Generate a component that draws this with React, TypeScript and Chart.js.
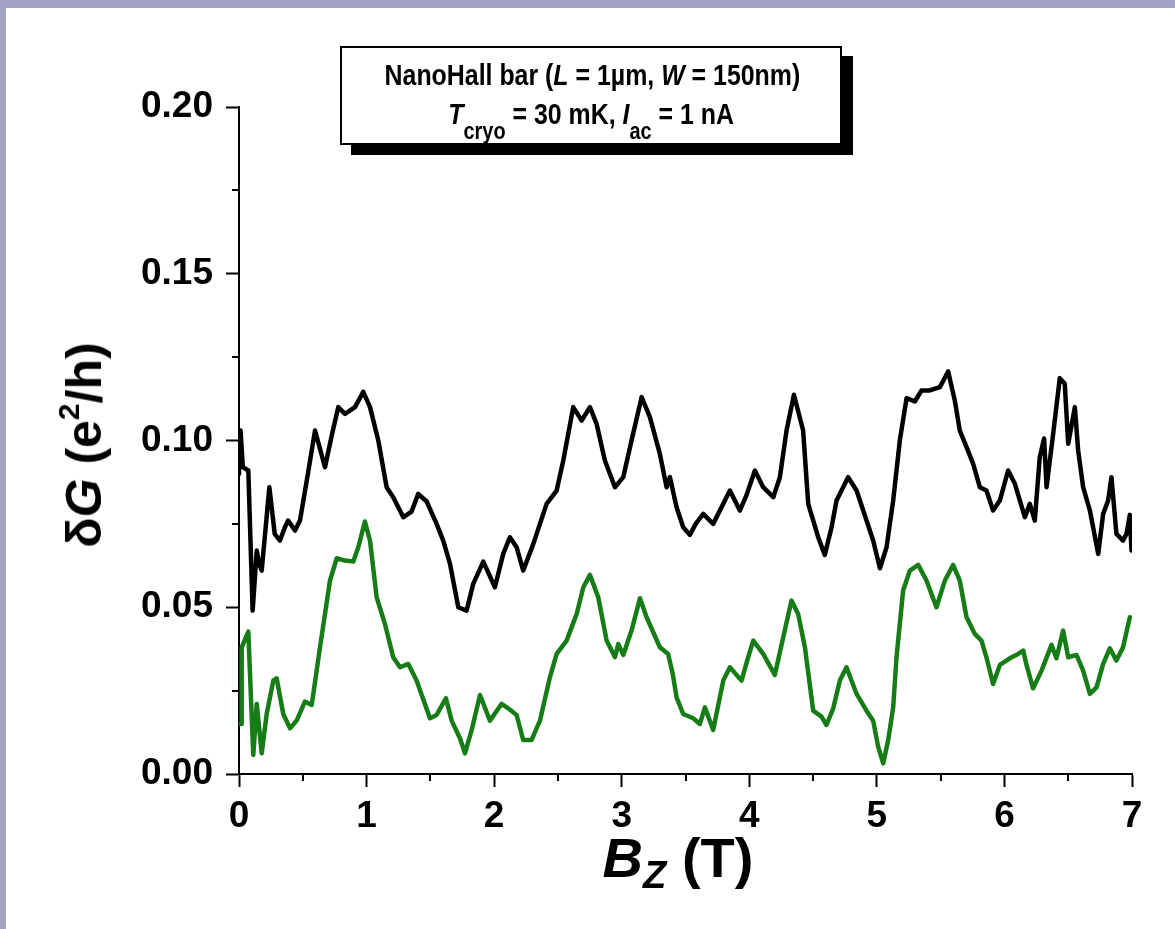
import React, { useEffect, useRef } from 'react';
import { Chart, registerables } from 'chart.js';

Chart.register(...registerables);

// Black trace: magnetic field B_Z (T) and conductance fluctuation δG (e²/h)
const blackB = [
  0.0, 0.012, 0.03, 0.073, 0.107, 0.139, 0.158, 0.178, 0.238, 0.28, 0.321, 0.36, 0.385, 0.439, 0.478,
  0.54, 0.596, 0.674, 0.73, 0.778, 0.831, 0.909, 0.974, 1.027, 1.092, 1.157, 1.209, 1.288, 1.353, 1.405,
  1.471, 1.549, 1.601, 1.654, 1.719, 1.784, 1.836, 1.915, 2.006, 2.071, 2.124, 2.176, 2.228, 2.307, 2.411,
  2.49, 2.542, 2.62, 2.686, 2.751, 2.803, 2.868, 2.947, 3.012, 3.077, 3.156, 3.221, 3.299, 3.352, 3.378,
  3.43, 3.482, 3.534, 3.58, 3.639, 3.717, 3.848, 3.926, 3.979, 4.044, 4.109, 4.188, 4.24, 4.292, 4.35,
  4.422, 4.462, 4.54, 4.592, 4.645, 4.684, 4.775, 4.841, 4.919, 4.971, 5.024, 5.076, 5.128, 5.18, 5.233,
  5.298, 5.35, 5.415, 5.494, 5.559, 5.611, 5.65, 5.703, 5.755, 5.807, 5.859, 5.911, 5.964, 6.029, 6.082,
  6.16, 6.199, 6.238, 6.277, 6.311, 6.33, 6.382, 6.434, 6.473, 6.5, 6.552, 6.578, 6.617, 6.67, 6.735,
  6.774, 6.813, 6.839, 6.878, 6.93, 6.957, 6.983, 6.996,
];
const blackG = [
  0.09, 0.103, 0.092, 0.091, 0.049, 0.067, 0.063, 0.061, 0.086, 0.072, 0.07, 0.074, 0.076, 0.073, 0.076,
  0.09, 0.103, 0.092, 0.102, 0.11, 0.108, 0.11, 0.1146, 0.11, 0.1, 0.086, 0.083, 0.077, 0.0787, 0.084,
  0.0817, 0.075, 0.07, 0.063, 0.05, 0.049, 0.057, 0.0637, 0.056, 0.066, 0.071, 0.068, 0.061, 0.069, 0.081,
  0.085, 0.094, 0.11, 0.106, 0.11, 0.105, 0.094, 0.086, 0.089, 0.1, 0.113, 0.107, 0.096, 0.086, 0.089,
  0.08, 0.074, 0.0717, 0.075, 0.078, 0.075, 0.085, 0.079, 0.0837, 0.091, 0.086, 0.083, 0.089, 0.103, 0.1137,
  0.103, 0.081, 0.071, 0.0657, 0.074, 0.082, 0.089, 0.085, 0.076, 0.07, 0.0617, 0.068, 0.082, 0.1, 0.1127,
  0.1117, 0.115, 0.115, 0.116, 0.1207, 0.112, 0.103, 0.098, 0.093, 0.086, 0.085, 0.079, 0.082, 0.091, 0.087,
  0.077, 0.081, 0.076, 0.095, 0.1006, 0.086, 0.102, 0.1187, 0.117, 0.099, 0.11, 0.097, 0.086, 0.079, 0.066,
  0.078, 0.082, 0.089, 0.072, 0.07, 0.072, 0.0777, 0.067,
];

// Green trace
const greenB = [
  0.005, 0.016, 0.021, 0.073, 0.099, 0.112, 0.139, 0.178, 0.217, 0.269, 0.295, 0.347, 0.4, 0.452, 0.517,
  0.57, 0.635, 0.713, 0.766, 0.831, 0.896, 0.935, 0.987, 1.027, 1.079, 1.144, 1.209, 1.262, 1.327, 1.392,
  1.497, 1.549, 1.622, 1.667, 1.732, 1.771, 1.824, 1.889, 1.967, 2.058, 2.11, 2.176, 2.228, 2.294, 2.359,
  2.437, 2.49, 2.568, 2.647, 2.699, 2.751, 2.816, 2.882, 2.947, 2.973, 3.012, 3.077, 3.143, 3.195, 3.299,
  3.364, 3.4, 3.43, 3.482, 3.56, 3.613, 3.652, 3.717, 3.796, 3.848, 3.939, 3.991, 4.031, 4.109, 4.2,
  4.266, 4.331, 4.383, 4.436, 4.501, 4.566, 4.605, 4.658, 4.71, 4.762, 4.841, 4.919, 4.971, 5.01, 5.05,
  5.089, 5.128, 5.154, 5.206, 5.259, 5.324, 5.389, 5.467, 5.533, 5.598, 5.65, 5.703, 5.768, 5.82, 5.859,
  5.911, 5.964, 6.042, 6.108, 6.147, 6.173, 6.225, 6.291, 6.369, 6.408, 6.46, 6.5, 6.565, 6.617, 6.67,
  6.722, 6.774, 6.826, 6.878, 6.93, 6.983,
];
const greenG = [
  0.015, 0.015, 0.038, 0.0427, 0.018, 0.0057, 0.021, 0.0062, 0.018, 0.028, 0.0287, 0.018, 0.0137, 0.016, 0.0217,
  0.0207, 0.038, 0.058, 0.0647, 0.064, 0.0637, 0.068, 0.0757, 0.07, 0.053, 0.045, 0.035, 0.032, 0.033, 0.028,
  0.0167, 0.0177, 0.0227, 0.016, 0.0107, 0.0062, 0.0132, 0.0237, 0.016, 0.021, 0.0197, 0.0177, 0.0102, 0.0102, 0.016,
  0.029, 0.036, 0.04, 0.048, 0.056, 0.0597, 0.053, 0.04, 0.035, 0.039, 0.0357, 0.043, 0.0527, 0.047, 0.038,
  0.036, 0.03, 0.023, 0.018, 0.0167, 0.015, 0.02, 0.0132, 0.028, 0.032, 0.028, 0.035, 0.04, 0.036, 0.0297,
  0.041, 0.052, 0.048, 0.038, 0.019, 0.0172, 0.0147, 0.0197, 0.028, 0.032, 0.024, 0.019, 0.016, 0.0082, 0.0032,
  0.0102, 0.02, 0.035, 0.055, 0.061, 0.0627, 0.058, 0.05, 0.058, 0.0627, 0.058, 0.047, 0.042, 0.04, 0.035,
  0.027, 0.0327, 0.0347, 0.036, 0.037, 0.0327, 0.0257, 0.031, 0.0387, 0.0347, 0.043, 0.035, 0.0357, 0.031, 0.024,
  0.026, 0.033, 0.0377, 0.034, 0.038, 0.047,
];

const xTickLabels = ['0', '1', '2', '3', '4', '5', '6', '7'];
const yTickLabels = ['0.00', '0.05', '0.10', '0.15', '0.20'];
const xMinorTicks = [0.5, 1.5, 2.5, 3.5, 4.5, 5.5, 6.5];
const yMinorTicks = [0.025, 0.075, 0.125, 0.175];

const FONT = '"Liberation Sans", Arial, Helvetica, sans-serif';

export default function App() {
  const ref = useRef<HTMLCanvasElement>(null);

  useEffect(() => {
    document.body.style.margin = '0';
    const canvas = ref.current;
    if (!canvas) return;

    const minorTicks = {
      id: 'minorTicks',
      afterDraw(chart: any) {
        const { ctx, scales } = chart;
        const x = scales.x;
        const y = scales.y;
        ctx.save();
        ctx.strokeStyle = '#000';
        ctx.lineWidth = 2;
        ctx.beginPath();
        for (const v of xMinorTicks) {
          const px = Math.round(x.getPixelForValue(v));
          ctx.moveTo(px, y.bottom);
          ctx.lineTo(px, y.bottom + 7);
        }
        for (const v of yMinorTicks) {
          const py = Math.round(y.getPixelForValue(v));
          ctx.moveTo(x.left, py);
          ctx.lineTo(x.left - 7, py);
        }
        ctx.stroke();
        ctx.restore();
      },
    };

    const tickFont = { family: FONT, size: 37, weight: 'bold' as const };
    const grid = {
      display: true,
      drawOnChartArea: false,
      drawTicks: true,
      tickLength: 13,
      tickWidth: 2,
      tickColor: '#000',
    };
    const border = { display: true, color: '#000', width: 2 };

    const chart = new Chart(canvas, {
      type: 'line',
      data: {
        datasets: [
          {
            data: blackB.map((b, i) => ({ x: b, y: blackG[i] })),
            borderColor: '#000000',
            borderWidth: 4.5,
            borderJoinStyle: 'round',
            borderCapStyle: 'round',
            pointRadius: 0,
            tension: 0,
            fill: false,
          },
          {
            data: greenB.map((b, i) => ({ x: b, y: greenG[i] })),
            borderColor: '#167d16',
            borderWidth: 4.5,
            borderJoinStyle: 'round',
            borderCapStyle: 'round',
            pointRadius: 0,
            tension: 0,
            fill: false,
          },
        ],
      },
      options: {
        responsive: false,
        animation: false,
        devicePixelRatio: 1,
        layout: { padding: { top: 107, right: 43, left: 0, bottom: 0 } },
        plugins: { legend: { display: false }, tooltip: { enabled: false } },
        scales: {
          x: {
            type: 'linear',
            min: 0,
            max: 7,
            afterFit(s: any) {
              s.height = 155;
            },
            ticks: {
              stepSize: 1,
              color: '#000',
              font: tickFont,
              padding: 8,
              maxRotation: 0,
              autoSkip: false,
              callback: (_v: any, i: number) => xTickLabels[i],
            },
            grid,
            border,
          },
          y: {
            type: 'linear',
            min: 0,
            max: 0.2,
            afterFit(s: any) {
              s.width = 239;
            },
            ticks: {
              stepSize: 0.05,
              color: '#000',
              font: tickFont,
              padding: 13,
              autoSkip: false,
              callback: (_v: any, i: number) => yTickLabels[i],
            },
            grid,
            border,
          },
        },
      },
      plugins: [minorTicks],
    });

    return () => chart.destroy();
  }, []);

  const subStyle: React.CSSProperties = { fontSize: '0.8em', verticalAlign: '-15px', lineHeight: 0 };

  return (
    <div style={{ position: 'relative', width: 1175, height: 929, background: '#a3a3c6', overflow: 'hidden', fontFamily: FONT, color: '#000' }}>
      <div style={{ position: 'absolute', left: 6, top: 8, right: 0, bottom: 0, background: '#fff' }} />
      <canvas ref={ref} width={1175} height={929} style={{ position: 'absolute', left: 0, top: 0 }} />

      <div
        style={{
          position: 'absolute',
          left: 340,
          top: 46,
          width: 502,
          height: 99,
          boxSizing: 'border-box',
          border: '2px solid #000',
          background: '#fff',
          boxShadow: '11px 10px 0 #000',
          fontWeight: 'bold',
        }}
      >
        <div style={{ position: 'absolute', left: 0, right: 0, top: 11.6, textAlign: 'center', fontSize: 30, lineHeight: '30px', whiteSpace: 'nowrap' }}>
          <span style={{ display: 'inline-block', transform: 'scaleX(0.83)' }}>
            NanoHall bar (<i>L</i> = 1µm, <i>W</i> = 150nm)
          </span>
        </div>
        <div style={{ position: 'absolute', left: 0, right: 0, top: 50.6, textAlign: 'center', fontSize: 30, lineHeight: '30px', whiteSpace: 'nowrap' }}>
          <span style={{ display: 'inline-block', transform: 'scaleX(0.83)' }}>
            <i>T</i>
            <sub style={subStyle}>cryo</sub> = 30 mK, <i>I</i>
            <sub style={subStyle}>ac</sub> = 1 nA
          </span>
        </div>
      </div>

      <div
        style={{
          position: 'absolute',
          left: 84,
          top: 445,
          transform: 'translate(-50%, -50%) rotate(-90deg)',
          fontSize: 50,
          lineHeight: '50px',
          fontWeight: 'bold',
          whiteSpace: 'nowrap',
        }}
      >
        δ<i>G</i> (e<sup style={{ fontSize: '0.6em', verticalAlign: '0.75em', lineHeight: 0 }}>2</sup>/h)
      </div>

      <div
        style={{
          position: 'absolute',
          left: 678,
          top: 830,
          transform: 'translateX(-50%)',
          fontSize: 56,
          lineHeight: '56px',
          fontWeight: 'bold',
          whiteSpace: 'nowrap',
        }}
      >
        <i>B</i>
        <sub style={{ fontSize: '0.68em', verticalAlign: '-0.3em', lineHeight: 0 }}>
          <i>Z</i>
        </sub>{' '}
        (T)
      </div>
    </div>
  );
}
